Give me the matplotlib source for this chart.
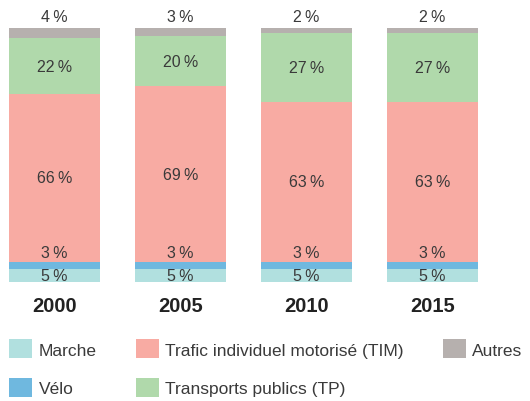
import matplotlib.pyplot as plt
from matplotlib.patches import Patch

plt.rcParams['font.family'] = ['Liberation Sans', 'DejaVu Sans']

# data (percent of trips per mode)
years = ['2000', '2005', '2010', '2015']
modes = ['Marche', 'Vélo', 'Trafic individuel motorisé (TIM)',
         'Transports publics (TP)', 'Autres']
marche = [5, 5, 5, 5]
velo = [3, 3, 3, 3]
tim = [66, 69, 63, 63]
tp = [22, 20, 27, 27]
autres = [4, 3, 2, 2]
colors = ['#b1e0df', '#6fb8df', '#f8aba3', '#b0d9ab', '#b6b0ae']

series = [marche, velo, tim, tp, autres]
txt_col = '#3a3a3a'

fig = plt.figure(figsize=(5.3, 4.02), dpi=100)
ax = fig.add_axes([9 / 530, 119 / 402, 499 / 530, 254 / 402])

x = list(range(len(years)))
width = 91 / 126
bottom = [0] * len(years)
for vals, col in zip(series, colors):
    ax.bar(x, vals, width, bottom=bottom, color=col, linewidth=0)
    bottom = [b + v for b, v in zip(bottom, vals)]

# value labels
for i in x:
    b = 0
    for k, vals in enumerate(series):
        v = vals[i]
        lab = f'{v}\u2009%'
        if k == 1:  # velo: just above its segment
            ax.annotate(lab, (i, b + v), xytext=(0, 6.5), textcoords='offset points',
                        ha='center', va='center', fontsize=11.5, color=txt_col)
        elif k == 4:  # autres: above the bar
            ax.annotate(lab, (i, b + v), xytext=(0, 8.6), textcoords='offset points',
                        ha='center', va='center', fontsize=11.5, color=txt_col)
        else:
            ax.text(i, b + v / 2, lab, ha='center', va='center',
                    fontsize=11.5, color=txt_col)
        b += v

ax.set_xlim(-0.36, 3.6)
ax.set_ylim(0, 100)
ax.set_xticks(x)
ax.set_xticklabels(years, fontsize=14.5, fontweight='bold', color='#222222')
ax.tick_params(axis='x', length=0, pad=10)
ax.set_yticks([])
for s in ax.spines.values():
    s.set_visible(False)

handles = [Patch(facecolor=c, edgecolor='none') for c in colors]
fig.legend(handles, modes, loc='upper left', bbox_to_anchor=(9 / 530, 1 - 340 / 402),
           ncol=3, frameon=False, fontsize=12.5, borderpad=0, borderaxespad=0,
           handlelength=1.35, handleheight=1.35, handletextpad=0.35,
           labelspacing=1.1, columnspacing=2.25, labelcolor=txt_col)

fig.savefig('out.png', dpi=100)
